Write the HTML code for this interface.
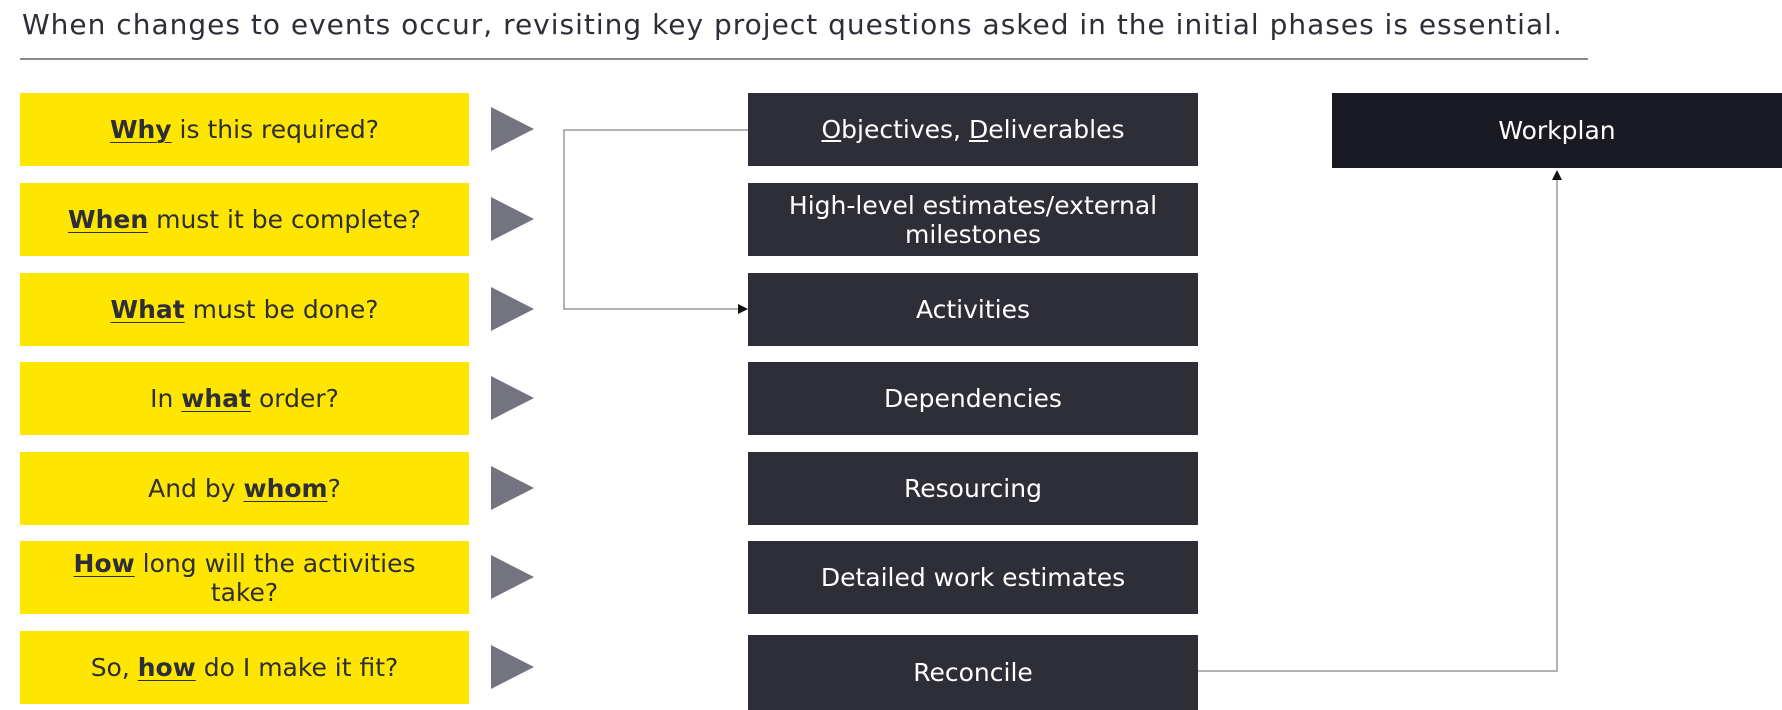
<!DOCTYPE html>
<html><head><meta charset="utf-8"><style>
body{margin:0;width:1782px;height:710px;background:#fff;position:relative;overflow:hidden;font-family:"DejaVu Sans","Liberation Sans",sans-serif}
.t{position:absolute;left:22px;top:8px;font-size:28px;color:#2e2e38;letter-spacing:1px;white-space:nowrap}
.hr{position:absolute;left:20px;top:58px;width:1568px;height:2px;background:#8a8a8f}
.y,.d,.w{position:absolute;display:flex;align-items:center;justify-content:center;text-align:center;font-size:25px;line-height:29px;box-sizing:border-box;padding:0 40px}
.y{left:20px;width:449px;height:73px;background:#ffe600;color:#2e2e38}
.d{left:748px;width:450px;height:73px;background:#2e2e38;color:#fff;padding:0 30px}
.w{left:1332px;width:450px;top:93px;height:75px;background:#1a1a24;color:#fff}
.y b{font-weight:bold;text-decoration:underline;text-decoration-thickness:1px;text-underline-offset:4px}
.tr{position:absolute;left:491px;width:0;height:0;border-top:22px solid transparent;border-bottom:22px solid transparent;border-left:43px solid #747480}
</style></head><body>
<div class="t">When changes to events occur, revisiting key project questions asked in the initial phases is essential.</div>
<div class="hr"></div>
<div class="y" style="top:93px"><span><b>Why</b> is this required?</span></div>
<div class="y" style="top:183px"><span><b>When</b> must it be complete?</span></div>
<div class="y" style="top:273px"><span><b>What</b> must be done?</span></div>
<div class="y" style="top:362px"><span>In <b>what</b> order?</span></div>
<div class="y" style="top:452px"><span>And by <b>whom</b>?</span></div>
<div class="y" style="top:541px"><span><b>How</b> long will the activities take?</span></div>
<div class="y" style="top:631px"><span>So, <b>how</b> do I make it fit?</span></div>
<div class="tr" style="top:107px"></div>
<div class="tr" style="top:197px"></div>
<div class="tr" style="top:287px"></div>
<div class="tr" style="top:376px"></div>
<div class="tr" style="top:466px"></div>
<div class="tr" style="top:555px"></div>
<div class="tr" style="top:645px"></div>
<div class="d" style="top:93px"><span><u>O</u>bjectives, <u>D</u>eliverables</span></div>
<div class="d" style="top:183px"><span>High-level estimates/external milestones</span></div>
<div class="d" style="top:273px"><span>Activities</span></div>
<div class="d" style="top:362px"><span>Dependencies</span></div>
<div class="d" style="top:452px"><span>Resourcing</span></div>
<div class="d" style="top:541px"><span>Detailed work estimates</span></div>
<div class="d" style="top:635px;height:75px"><span>Reconcile</span></div>
<div class="w"><span>Workplan</span></div>
<svg style="position:absolute;left:0;top:0" width="1782" height="710">
<polyline points="748,130 564,130 564,309 738,309" fill="none" stroke="#999" stroke-width="1.5"/>
<polygon points="748,309 738,304 738,314" fill="#111"/>
<polyline points="1198,671 1557,671 1557,180" fill="none" stroke="#999" stroke-width="1.5"/>
<polygon points="1557,170 1552,180 1562,180" fill="#111"/>
</svg>
</body></html>
